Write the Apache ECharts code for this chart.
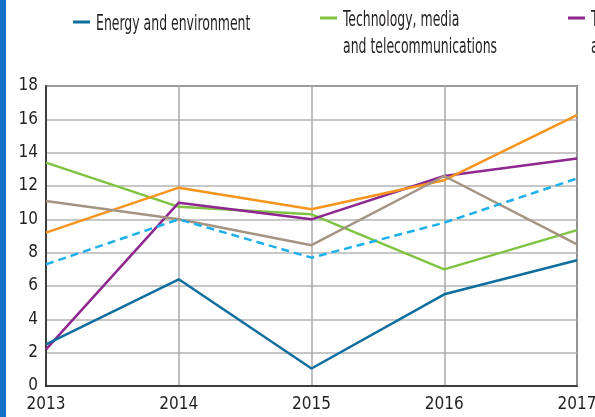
<!DOCTYPE html>
<html style="height: 100%; width: 100%;">
<head>
    <meta charset="utf-8">
    <title>Sector lines 2013-2017</title>
    <script src="https://cdn.jsdelivr.net/npm/echarts@6/dist/echarts.min.js"></script>
    <style>
        body, html {
            margin: 0;
            padding: 0;
            width: 100%;
            height: 100%;
            overflow: hidden;
            background: #fff;
        }
        #main {
            width: 595px;
            height: 417px;
        }
    </style>
</head>
<body>
<div id="main"></div>
<script type="text/javascript">
    var years = ['2013', '2014', '2015', '2016', '2017'];
    var yTicks = [0, 2, 4, 6, 8, 10, 12, 14, 16, 18];

    var energy = [2.5, 6.4, 1.05, 5.5, 7.55];
    var technology = [13.4, 10.75, 10.3, 7.0, 9.35];
    var transport = [2.2, 11.0, 10.0, 12.6, 13.65];
    var orange = [9.2, 11.9, 10.6, 12.35, 16.25];
    var brown = [11.1, 10.0, 8.45, 12.6, 8.5];
    var average = [7.3, 10.0, 7.7, 9.8, 12.45];

    var names = ['Energy and environment', 'Technology, media\nand telecommunications', 'Transport\nand logistics', 'Other 1', 'Other 2', 'Average'];
    var colors = ['#0e6e9e', '#80c342', '#8e278f', '#f7941d', '#a59481', '#1eb0ea'];

    var font = '"DejaVu Sans Condensed", "Liberation Sans", sans-serif';

    var seriesData = [energy, technology, transport, orange, brown, average];
    var series = seriesData.map(function (vals, i) {
        return {
            name: names[i],
            type: 'line',
            data: vals,
            symbol: 'none',
            z: i === 0 ? 10 : 5,
            lineStyle: {
                color: colors[i],
                width: 2.5,
                type: i === 5 ? [8, 5] : 'solid'
            }
        };
    });

    // legend drawn by hand so the icon sits on the first text line
    var legendPos = [[73, 22], [320, 18], [568, 18]];
    var graphics = [{
        type: 'rect',
        shape: { x: 0, y: 0, width: 6, height: 417 },
        style: { fill: '#1470c4' }
    }];
    legendPos.forEach(function (p, i) {
        graphics.push({
            type: 'line',
            shape: { x1: p[0], y1: p[1], x2: p[0] + 17, y2: p[1] },
            style: { stroke: colors[i], lineWidth: 3 }
        });
        graphics.push({
            type: 'text',
            x: p[0] + 23,
            y: p[1] - 11,
            scaleX: 0.66,
            style: {
                text: names[i],
                font: '21px ' + font,
                fill: '#231f20',
                lineHeight: 27
            }
        });
    });

    var chart = echarts.init(document.getElementById('main'));
    chart.setOption({
        animation: false,
        grid: {
            left: 46,
            right: 18,
            top: 86,
            bottom: 31,
            outerBoundsMode: 'none',
            containLabel: false,
            show: true,
            borderColor: '#231f20',
            borderWidth: 1.5
        },
        xAxis: {
            type: 'category',
            data: years,
            boundaryGap: false,
            axisLine: { lineStyle: { color: '#231f20', width: 1.5 } },
            axisTick: { show: false },
            axisLabel: {
                color: '#231f20',
                fontSize: 17,
                fontFamily: font,
                margin: 10
            },
            splitLine: { show: true, lineStyle: { color: '#a8a8a8', width: 1.5 } }
        },
        yAxis: {
            type: 'value',
            min: yTicks[0],
            max: yTicks[yTicks.length - 1],
            interval: 2,
            axisLine: { show: true, lineStyle: { color: '#231f20', width: 1.5 } },
            axisTick: { show: false },
            axisLabel: {
                color: '#231f20',
                fontSize: 17,
                fontFamily: font,
                margin: 8
            },
            splitLine: { lineStyle: { color: '#b4b4b4', width: 1.5 } }
        },
        graphic: graphics,
        series: series
    });
</script>
</body>
</html>
